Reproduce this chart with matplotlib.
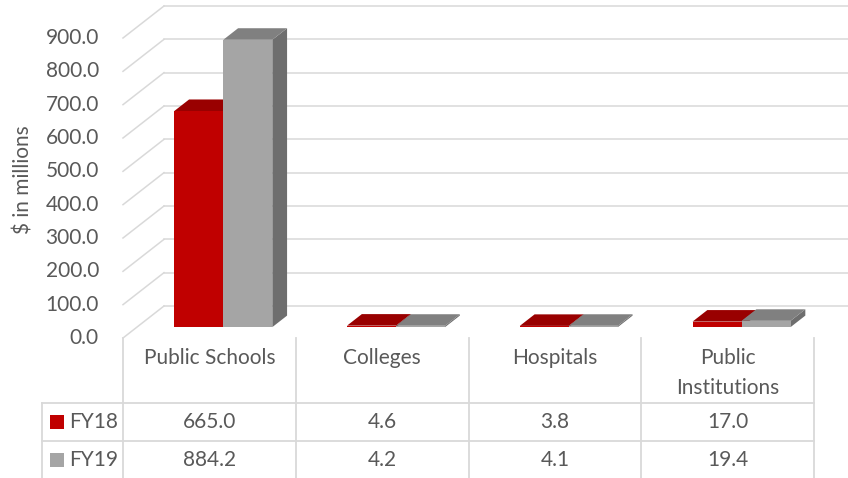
import matplotlib
matplotlib.use("Agg")
import matplotlib.pyplot as plt
from matplotlib.patches import Polygon, Rectangle

plt.rcParams['font.family'] = ['Lato', 'DejaVu Sans']

# data
categories = ['Public Schools', 'Colleges', 'Hospitals', 'Public\nInstitutions']
series_names = ['FY18', 'FY19']
fy18 = [665.0, 4.6, 3.8, 17.0]
fy19 = [884.2, 4.2, 4.1, 19.4]
yticks = [0, 100, 200, 300, 400, 500, 600, 700, 800, 900]

# colours: front, top, side
red = ('#C00000', '#990000', '#880000')
grey = ('#A5A5A5', '#808080', '#6E6E6E')
grid_c = '#D9D9D9'
txt_c = '#595959'

W, H = 848, 478
fig = plt.figure(figsize=(W / 100, H / 100), dpi=100)
ax = fig.add_axes([123 / W, 140 / H, 691 / W, 300 / H])
ax.set_xlim(0, 4)
ax.set_ylim(0, 900)
ax.axis('off')

px_x = 691 / 4.0      # pixels per category
px_y = 300 / 900.0    # pixels per value unit
DX = 41 / px_x        # depth of the floor (x)
DY = 32 / px_y        # depth of the floor (y)

# walls
for v in yticks:
    ax.plot([0, DX], [v, v + DY], color=grid_c, lw=1.1, clip_on=False, zorder=1)
    ax.plot([DX, 4 + DX], [v + DY, v + DY], color=grid_c, lw=1.1, clip_on=False, zorder=1)
    ax.text(-24 / px_x, v, '%.1f' % v, ha='right', va='center', fontsize=15,
            color=txt_c)

fig.text(24 / W, 1 - 180 / H, '$ in millions', rotation=90, ha='center',
         va='center', fontsize=15, color=txt_c)

# 3d bars (bars sit a bit back in the box, so a small perspective shrink)
f0 = 0.34
fd = 0.36
persp = 0.975
bw = 49 / px_x
ddx, ddy = fd * DX, fd * DY
for i in range(len(categories)):
    for j, (vals, cols) in enumerate([(fy18, red), (fy19, grey)]):
        x0 = i + 0.5 - bw + j * bw + f0 * DX
        x1 = x0 + bw
        b = f0 * DY
        h = vals[i] * persp
        t = b + h
        front = Rectangle((x0, b), bw, h, facecolor=cols[0], edgecolor='none',
                          clip_on=False, zorder=3)
        top = Polygon([(x0, t), (x1, t), (x1 + ddx, t + ddy), (x0 + ddx, t + ddy)],
                      closed=True, facecolor=cols[1], edgecolor='none',
                      clip_on=False, zorder=3)
        side = Polygon([(x1, b), (x1 + ddx, b + ddy), (x1 + ddx, t + ddy), (x1, t)],
                       closed=True, facecolor=cols[2], edgecolor='none',
                       clip_on=False, zorder=3)
        ax.add_patch(side)
        ax.add_patch(front)
        ax.add_patch(top)

# data table
y_head = (338 - 403) / px_y
y_row = (338 - 441) / px_y
y_bot = (338 - 480) / px_y
x_left = (42 - 123) / px_x
for k in range(5):
    ax.plot([k, k], [0, y_bot], color=grid_c, lw=1.3, clip_on=False, zorder=1)
ax.plot([x_left, x_left], [y_head, y_bot], color=grid_c, lw=1.3, clip_on=False)
for yy in [y_head, y_row]:
    ax.plot([x_left, 4], [yy, yy], color=grid_c, lw=1.3, clip_on=False)

for i, c in enumerate(categories):
    ax.text(i + 0.5, (338 - 348) / px_y, c, ha='center', va='top', fontsize=15,
            color=txt_c, linespacing=1.65)

row_y = [(338 - 422) / px_y, (338 - 460) / px_y]
for r, (name, vals, cols) in enumerate(zip(series_names, [fy18, fy19], [red, grey])):
    ax.add_patch(Rectangle(((50 - 123) / px_x, row_y[r] - 7 / px_y), 14 / px_x, 14 / px_y,
                           facecolor=cols[0], edgecolor='none', clip_on=False))
    ax.text((69 - 123) / px_x, row_y[r], name, ha='left', va='center', fontsize=15,
            color=txt_c)
    for i, v in enumerate(vals):
        ax.text(i + 0.5, row_y[r], '%.1f' % v, ha='center', va='center', fontsize=15,
                color=txt_c)

fig.savefig('out.png', dpi=100)
